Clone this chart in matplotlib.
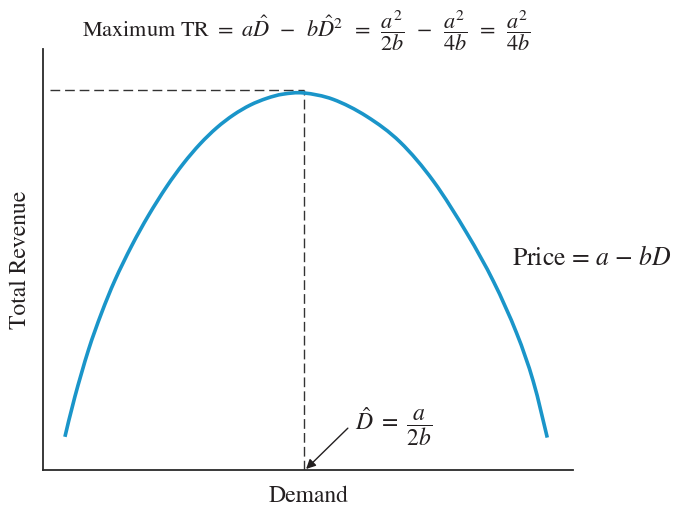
import matplotlib
matplotlib.use("Agg")
import matplotlib.pyplot as plt
from matplotlib.path import Path
from matplotlib.patches import PathPatch

plt.rcParams['font.family'] = ['STIXGeneral', 'DejaVu Serif']
plt.rcParams['mathtext.fontset'] = 'stix'

# Values (Demand units with D_hat = 5, peak TR = 100)
demand = [0.42, 0.61, 0.87, 1.12, 1.38, 1.70, 2.02, 2.37, 2.69, 3.01, 3.33,
          3.65, 3.97, 4.29, 4.60, 5.00, 5.56, 6.20, 6.84, 7.48, 8.12, 8.63,
          9.07, 9.39, 9.66]
revenue = [8.8, 19.4, 31.8, 41.6, 50.4, 59.5, 67.5, 75.2, 81.3, 86.5, 90.8,
           94.2, 96.8, 98.6, 99.7, 100.0, 98.3, 93.8, 87.0, 76.6, 62.8, 50.0,
           36.4, 23.6, 8.6]
d_hat = 5.0
tr_max = 100.8

W, H = 680, 507
fig = plt.figure(figsize=(W / 100, H / 100), dpi=100)
ax = fig.add_axes([43 / W, 1 - 470 / H, 530 / W, 421 / H])
ax.set_xlim(0, 10.153)
ax.set_ylim(0, 111.67)

for s in ['top', 'right']:
    ax.spines[s].set_visible(False)
for s in ['left', 'bottom']:
    ax.spines[s].set_color('#2a2a2a')
    ax.spines[s].set_linewidth(1.3)
ax.set_xticks([])
ax.set_yticks([])

ink = '#231f20'

# smooth rendering of the read points (Catmull-Rom drawn as Bezier path)
pts = list(zip(demand, revenue))
verts = [pts[0]]
codes = [Path.MOVETO]
n = len(pts)
for i in range(n - 1):
    p0 = pts[max(i - 1, 0)]
    p1 = pts[i]
    p2 = pts[i + 1]
    p3 = pts[min(i + 2, n - 1)]
    c1 = (p1[0] + (p2[0] - p0[0]) / 6, p1[1] + (p2[1] - p0[1]) / 6)
    c2 = (p2[0] - (p3[0] - p1[0]) / 6, p2[1] - (p3[1] - p1[1]) / 6)
    verts += [c1, c2, p2]
    codes += [Path.CURVE4] * 3
ax.add_patch(PathPatch(Path(verts, codes), facecolor='none',
                       edgecolor='#1a95c9', lw=2.6, capstyle='butt', zorder=3))

ax.plot([0.134, d_hat], [tr_max, tr_max], color='#333333', lw=1.0,
        dashes=(7, 3.5), zorder=2)
ax.plot([d_hat, d_hat], [0, tr_max], color='#333333', lw=1.0,
        dashes=(7, 3.0), zorder=2)

ax.annotate('', xy=(5.04, 0.27), xytext=(5.84, 11.1), xycoords='data',
            arrowprops=dict(arrowstyle='-|>', color=ink, lw=1.0,
                            mutation_scale=14, shrinkA=0, shrinkB=0))

def fp(x, y):
    return x / W, 1 - y / H

sp = r'\,\ '
title = (r'Maximum TR $=$ $a\hat{D}' + sp + '-' + sp + r'b\hat{D}^2' + sp + '=' + sp
         + r'\dfrac{a^2}{2b}' + sp + '-' + sp + r'\dfrac{a^2}{4b}' + sp + '=' + sp
         + r'\dfrac{a^2}{4b}$')
fig.text(*fp(82, 37), title, ha='left', va='baseline', fontsize=16, color=ink)
fig.text(*fp(512, 265), r'Price = $a$ $-$ $bD$', ha='left', va='baseline',
         fontsize=18.5, color=ink)
fig.text(*fp(355, 427), r'$\hat{D}\ =\ \dfrac{a}{2b}$', ha='left', va='center',
         fontsize=17, color=ink)
fig.text(*fp(20, 260), 'Total Revenue', rotation=90, ha='center', va='center',
         fontsize=17, color=ink)
fig.text(*fp(309, 502), 'Demand', ha='center', va='baseline', fontsize=17,
         color=ink)

fig.savefig('out.png', dpi=100)
